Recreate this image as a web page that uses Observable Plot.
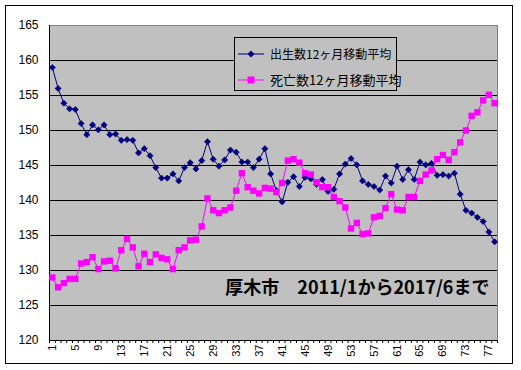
<!DOCTYPE html>
<html><head><meta charset="utf-8">
<script src="https://cdn.jsdelivr.net/npm/d3@7"></script>
<script src="https://cdn.jsdelivr.net/npm/@observablehq/plot@0.6"></script>
<style>
body{margin:0;background:#fff}
#wrap{position:relative;width:521px;height:370px;overflow:hidden;background:#fff}
#border{position:absolute;left:5px;top:5px;width:506px;height:357px;border:1px solid #000}
#chart{position:absolute;left:0;top:0}
#legend{position:absolute;left:234px;top:37px;width:161px;height:52px;border:1px solid #000;background:#C0C0C0;font-family:"Noto Sans CJK JP",sans-serif;color:#000}
.row{position:absolute;left:3px;display:flex;align-items:center;white-space:nowrap}
.row svg{margin-right:6px}
</style>
</head><body>
<div id="wrap"><div id="border"></div><div id="chart"></div><div id="legend"></div></div>
<script>
const months = d3.range(1, 79);
const births = [159.0,156.0,153.9,153.1,153.0,151.0,149.4,150.8,150.1,150.8,
149.4,149.5,148.6,148.7,148.6,146.8,147.4,146.4,144.7,143.2,
143.2,143.8,142.8,144.7,145.4,144.5,145.7,148.4,145.9,144.9,
145.8,147.2,146.9,145.5,145.5,144.7,145.9,147.4,143.8,141.4,
139.8,142.6,143.4,142.0,143.3,143.1,142.3,143.0,141.3,141.6,
143.8,145.2,146.0,145.1,142.8,142.3,142.0,141.5,143.5,142.5,
144.9,143.0,144.4,143.0,145.5,145.1,145.3,143.6,143.7,143.5,
143.9,140.9,138.6,138.2,137.6,137.0,135.5,134.1];
const deaths = [129.0,127.6,128.2,128.8,128.8,131.0,131.2,131.9,130.2,131.3,
131.4,130.3,132.9,134.5,133.3,130.6,132.4,131.2,132.3,131.8,
131.6,130.2,132.9,133.3,134.3,134.4,136.3,140.3,138.6,138.2,
138.6,139.0,141.4,143.9,141.9,141.4,141.0,141.8,141.7,141.2,
142.5,145.7,145.9,145.4,143.9,143.7,142.6,141.9,141.9,140.5,
139.9,139.0,136.0,136.8,135.2,135.3,137.6,137.8,138.9,140.9,
138.7,138.6,140.5,140.5,142.8,143.7,144.3,145.9,146.5,145.8,
146.9,148.3,150.0,152.1,152.6,154.3,155.1,153.9];
const xTickLabels = [1,5,9,13,17,21,25,29,33,37,41,45,49,53,57,61,65,69,73,77];
const yTicks = [120,125,130,135,140,145,150,155,160,165];
const seriesNames = ["出生数12ヶ月移動平均","死亡数12ヶ月移動平均"];
const seriesColors = ["#000080","#FF00FF"];
const annotation = "厚木市　2011/1から2017/6まで";

const bData = months.map((m, i) => ({m, v: births[i]}));
const dData = months.map((m, i) => ({m, v: deaths[i]}));
const bounds = d3.range(0, months.length + 1).map(i => i + 0.5);

const plot = Plot.plot({
  width: 521, height: 370,
  marginLeft: 49, marginRight: 24, marginTop: 25, marginBottom: 30,
  x: {type: "linear", domain: [0.5, months.length + 0.5]},
  y: {domain: [120, 165]},
  style: {background: "transparent", fontFamily: "'Liberation Sans', Arial, sans-serif", fontSize: "12px", color: "#000"},
  marks: [
    Plot.frame({fill: "#C0C0C0", stroke: "#808080"}),
    Plot.gridY(yTicks.slice(1, -1), {stroke: "#000", strokeOpacity: 1}),
    Plot.ruleX([0.5], {stroke: "#000"}),
    Plot.ruleY([120], {stroke: "#000"}),
    Plot.axisY(yTicks, {tickSize: 0, tickPadding: 11, fontSize: 12, label: null}),
    Plot.axisX(bounds, {tickSize: 3, tickFormat: () => "", label: null}),
    Plot.axisX(xTickLabels, {tickSize: 0, tickRotate: -90, tickPadding: 4, fontSize: 11, label: null}),
    Plot.line(bData, {x: "m", y: "v", stroke: seriesColors[0], strokeWidth: 1}),
    Plot.dot(bData, {x: "m", y: "v", symbol: "diamond2", r: 2.8, fill: seriesColors[0], stroke: seriesColors[0], strokeWidth: 0.6}),
    Plot.line(dData, {x: "m", y: "v", stroke: seriesColors[1], strokeWidth: 1}),
    Plot.dot(dData, {x: "m", y: "v", symbol: "square", r: 3.6, fill: seriesColors[1], stroke: "none"}),
    Plot.text([annotation], {frameAnchor: "bottom-right", textAnchor: "end", lineAnchor: "middle", dx: -8, dy: -52,
      fontFamily: "'Noto Sans CJK JP', sans-serif", fontWeight: "bold", fontSize: 18, fill: "#000"})
  ]
});
document.getElementById("chart").appendChild(plot);

const legend = document.getElementById("legend");
const tops = [7, 32];
const fsz = [12, 13];
seriesNames.forEach((name, i) => {
  const row = document.createElement("div");
  row.className = "row";
  row.style.top = tops[i] + "px";
  row.style.fontSize = fsz[i] + "px";
  const sym = i === 0
    ? `<path d="M13,1.5 L16.5,5 L13,8.5 L9.5,5 Z" fill="${seriesColors[0]}"/>`
    : `<rect x="9.5" y="1.5" width="7" height="7" fill="${seriesColors[1]}"/>`;
  row.innerHTML = `<svg width="26" height="10"><line x1="0" x2="26" y1="5" y2="5" stroke="${seriesColors[i]}" stroke-width="1"/>${sym}</svg><span>${name}</span>`;
  legend.appendChild(row);
});
</script>
</body></html>
